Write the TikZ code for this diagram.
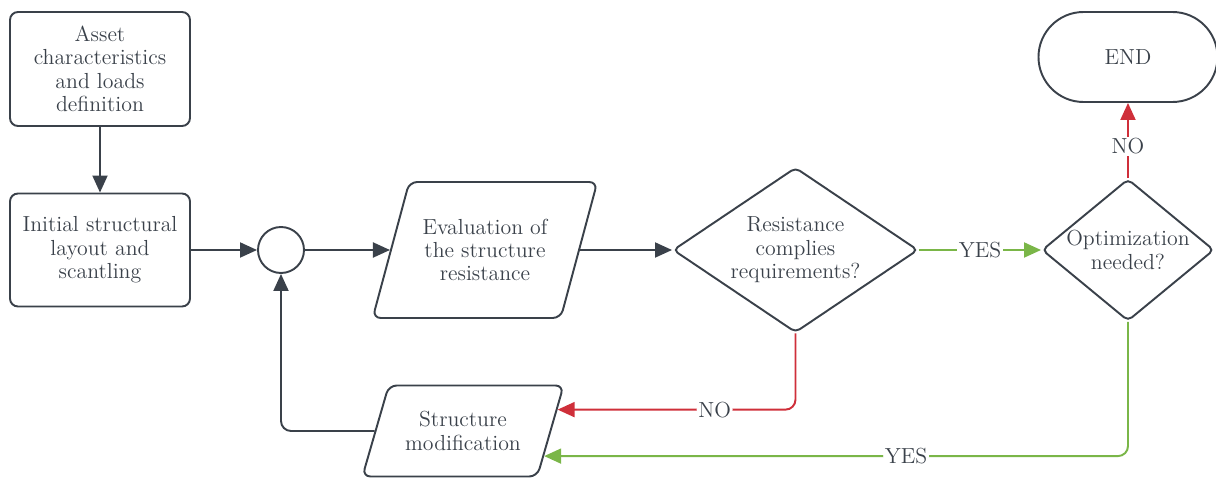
\documentclass[tikz,border=0pt]{standalone}
\usetikzlibrary{shapes.geometric,arrows.meta,calc}
\definecolor{ink}{HTML}{3A414A}
\definecolor{nored}{HTML}{CF2F3A}
\definecolor{yesgreen}{HTML}{7AB648}

\begin{document}
\begin{tikzpicture}[
  font=\fontsize{12.4}{13.3}\selectfont,
  box/.style={draw=ink, text=ink, line width=1.1pt, rounded corners=0.16cm, minimum width=3.6cm, minimum height=2.28cm, align=center},
  iobox/.style={draw=ink, text=ink, line width=1.1pt, trapezium, trapezium left angle=66, trapezium right angle=114, trapezium stretches=true, rounded corners=0.16cm, align=center},
  choice/.style={draw=ink, text=ink, line width=1.1pt, diamond, rounded corners=0.1cm, inner sep=-2pt, align=center},
  flow/.style={draw=ink, line width=1.1pt, -{Triangle[length=0.34cm,width=0.3cm]}},
  lbl/.style={fill=white, text=ink, inner sep=1pt}
]
\useasboundingbox (0,0) rectangle (24.32,-9.56);

\node[box](asset) at (2.0,-1.38) {Asset\\characteristics\\and loads\\definition};
\node[box, minimum height=2.26cm](layout) at (2.0,-5.0) {Initial structural\\layout and\\scantling};
\node[draw=ink, line width=1.1pt, circle, minimum size=0.92cm, inner sep=0pt](join) at (5.62,-5.0) {};
\node[iobox, minimum width=4.5cm, minimum height=2.72cm](eval) at (9.7,-5.0) {Evaluation of\\the structure\\resistance};
\node[choice, shape aspect=1.48, minimum width=4.9cm, minimum height=3.3cm](check) at (15.91,-5.0) {Resistance\\complies\\requirements?};
\node[choice, shape aspect=1.21, minimum width=3.44cm, minimum height=2.84cm](optim) at (22.56,-5.0) {Optimization\\needed?};
\node[draw=ink, text=ink, line width=1.1pt, rounded corners=0.9cm, minimum width=3.58cm, minimum height=1.8cm](end) at (22.56,-1.14) {END};
\node[iobox, minimum width=4.06cm, minimum height=1.82cm](modif) at (9.26,-8.62) {Structure\\modification};

\coordinate (noin) at ($(modif.top right corner)!0.27!(modif.bottom right corner)$);
\coordinate (yesin) at ($(modif.top right corner)!0.77!(modif.bottom right corner)$);

\draw[flow] (asset) -- (layout);
\draw[flow] (layout) -- (join);
\draw[flow] (join) -- (eval);
\draw[flow] (eval.east) -- (check.west);
\draw[flow, rounded corners=0.2cm] (modif.west) -| (join.south);

\draw[flow, draw=yesgreen] (check.east) -- node[lbl]{YES} (optim.west);
\draw[flow, draw=nored] (optim.north) -- node[lbl, pos=0.42]{NO} (end.south);
\draw[flow, draw=nored, rounded corners=0.2cm] (check.south) |- node[lbl, pos=0.67]{NO} (noin);
\draw[flow, draw=yesgreen, rounded corners=0.2cm] (optim.south) |- node[lbl, pos=0.69]{YES} (yesin);
\end{tikzpicture}
\end{document}
